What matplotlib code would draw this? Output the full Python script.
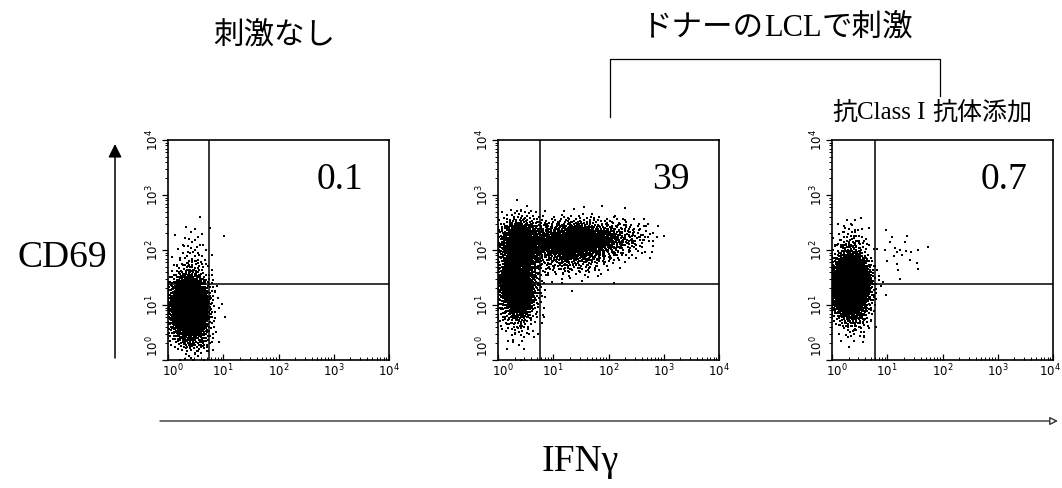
import numpy as np
import matplotlib
matplotlib.use("Agg")
import matplotlib.pyplot as plt
from matplotlib.transforms import ScaledTranslation

# ---------------- data ----------------
panel_titles = ["刺激なし", "ドナーのLCLで刺激", "抗Class I 抗体添加"]
quadrant_pct = ["0.1", "39", "0.7"]
x_label = "IFNγ"
y_label = "CD69"
tick_vals = [1, 10, 100, 1000, 10000]
tick_labels = ["$10^0$", "$10^1$", "$10^2$", "$10^3$", "$10^4$"]

# gate positions in log10 decades (x gate, y gate)
gate_x = [0.75, 0.76, 0.77]
gate_y = [1.38, 1.38, 1.38]

# populations per panel: centre x, centre y (log10), spread x, spread y, events
pop_cx_1 = [0.38, 0.45, 0.55, 0.90]
pop_cy_1 = [0.95, 1.75, 0.35, 1.60]
pop_sx_1 = [0.17, 0.16, 0.15, 0.05]
pop_sy_1 = [0.29, 0.35, 0.15, 0.40]
pop_n_1 = [2400, 90, 60, 3]

pop_cx_2 = [0.35, 0.42, 1.40, 2.25, 1.30, 0.40]
pop_cy_2 = [1.35, 2.10, 2.15, 2.25, 1.80, 0.65]
pop_sx_2 = [0.18, 0.22, 0.42, 0.32, 0.32, 0.18]
pop_sy_2 = [0.32, 0.25, 0.19, 0.17, 0.17, 0.25]
pop_n_2 = [1400, 900, 1600, 150, 150, 40]

pop_cx_3 = [0.33, 0.35, 0.45, 1.20]
pop_cy_3 = [1.35, 2.05, 0.70, 1.95]
pop_sx_3 = [0.17, 0.15, 0.15, 0.30]
pop_sy_3 = [0.28, 0.25, 0.20, 0.25]
pop_n_3 = [2600, 100, 60, 25]

populations = [
    (pop_cx_1, pop_cy_1, pop_sx_1, pop_sy_1, pop_n_1),
    (pop_cx_2, pop_cy_2, pop_sx_2, pop_sy_2, pop_n_2),
    (pop_cx_3, pop_cy_3, pop_sx_3, pop_sy_3, pop_n_3),
]


def quasi_cloud(cx, cy, sx, sy, n, offset):
    """Deterministic (R2 low-discrepancy) Gaussian-shaped cloud."""
    g = 1.32471795724474602596
    a1, a2 = 1.0 / g, 1.0 / (g * g)
    k = np.arange(offset + 1, offset + n + 1)
    u1 = np.mod(0.5 + a1 * k, 1.0)
    u2 = np.mod(0.5 + a2 * k, 1.0)
    u1 = np.clip(u1, 1e-4, 1 - 1e-4)
    r = np.sqrt(-2.0 * np.log(u1))
    x = cx + sx * r * np.cos(2 * np.pi * u2)
    y = cy + sy * r * np.sin(2 * np.pi * u2)
    return x, y


# ---------------- figure ----------------
W, H = 1062, 488
fig = plt.figure(figsize=(W / 100, H / 100), dpi=100)

overlay = fig.add_axes([0, 0, 1, 1])
overlay.set_xlim(0, W)
overlay.set_ylim(H, 0)
overlay.axis("off")

panel_lefts = [168, 498, 832]
panel_w, panel_top, panel_bottom = 221, 140, 360

serif = "Liberation Serif"
cjk = "Noto Sans CJK JP"

for i, (left, pops) in enumerate(zip(panel_lefts, populations)):
    ax = fig.add_axes([left / W, (H - panel_bottom) / H, panel_w / W,
                       (panel_bottom - panel_top) / H])
    xs, ys = [], []
    cxs, cys, sxs, sys_, ns = pops
    off = 0
    for cx, cy, sx, sy, n in zip(cxs, cys, sxs, sys_, ns):
        x, y = quasi_cloud(cx, cy, sx, sy, n, off + 137 * i)
        off += n + 911
        xs.append(x)
        ys.append(y)
    xs = np.clip(np.concatenate(xs), 0.0, 3.99)
    ys = np.clip(np.concatenate(ys), 0.0, 3.99)
    ax.scatter(10 ** xs, 10 ** ys, s=1.2, marker="s", c="black", linewidths=0)

    ax.set_xscale("log")
    ax.set_yscale("log")
    ax.set_xlim(1, 10000)
    ax.set_ylim(1, 10000)
    ax.axvline(10 ** gate_x[i], color="black", lw=1.1)
    ax.axhline(10 ** gate_y[i], color="black", lw=1.1)
    for sp in ax.spines.values():
        sp.set_linewidth(1.2)
    ax.set_xticks(tick_vals)
    ax.set_xticklabels(tick_labels, fontsize=8.5)
    ax.set_yticks(tick_vals)
    ax.set_yticklabels(tick_labels, fontsize=8.5, rotation=90, va="center")
    ax.tick_params(axis="x", which="both", direction="in", pad=2)
    ax.tick_params(axis="y", which="both", direction="out", pad=1)
    ax.tick_params(which="major", length=4, width=0.9)
    ax.tick_params(which="minor", length=2.5, width=0.7)
    # keep the corner labels apart and the last label inside the figure
    ylabs = ax.get_yticklabels()
    ylabs[0].set_va("bottom")
    ylabs[0].set_transform(ylabs[0].get_transform() +
                           ScaledTranslation(0, 2 / 72, fig.dpi_scale_trans))
    xlabs = ax.get_xticklabels()
    xlabs[0].set_ha("left")
    xlabs[0].set_transform(xlabs[0].get_transform() +
                           ScaledTranslation(-4 / 72, 0, fig.dpi_scale_trans))
    if i == 2:
        xlabs[-1].set_ha("right")
        xlabs[-1].set_transform(xlabs[-1].get_transform() +
                                ScaledTranslation(6 / 72, 0, fig.dpi_scale_trans))
    ax.text(0.78, 0.82, quadrant_pct[i], transform=ax.transAxes,
            ha="center", va="center", fontsize=27, family=serif)

# ---------------- texts built from runs ----------------
renderer = fig.canvas.get_renderer()


def draw_runs(xc, yc, runs, size):
    texts = []
    for s, fam in runs:
        t = overlay.text(0, yc, s, fontsize=size, family=fam,
                         ha="left", va="center")
        texts.append(t)
    widths = []
    for t in texts:
        bb = t.get_window_extent(renderer=renderer)
        widths.append(bb.width)
    total = sum(widths)
    x = xc - total / 2.0
    for t, w in zip(texts, widths):
        t.set_x(x)
        x += w


overlay.text(274, 36, panel_titles[0], fontsize=22, family=cjk,
             ha="center", va="center")
draw_runs(778, 28, [("ドナーの", cjk), ("LCL", serif), ("で刺激", cjk)], 22)
draw_runs(932, 113, [("抗", cjk), ("Class I ", serif), ("抗体添加", cjk)], 18)

# bracket
overlay.plot([610, 610, 940, 940], [117, 59, 59, 96], color="black", lw=0.9)

# axis labels and arrows
overlay.text(62, 258, y_label, fontsize=27, family=serif, ha="center", va="center")
overlay.text(580, 462, x_label, fontsize=27, family=serif, ha="center", va="center")
overlay.annotate("", xy=(115, 144), xytext=(115, 358),
                 arrowprops=dict(arrowstyle="-|>", color="black", lw=1.1,
                                 mutation_scale=20, shrinkA=0, shrinkB=0))
overlay.annotate("", xy=(1058, 421), xytext=(160, 421),
                 arrowprops=dict(arrowstyle="-|>", fc="white", ec="#333333",
                                 lw=1.0, mutation_scale=12, shrinkA=0, shrinkB=0))

fig.savefig("out.png", dpi=100)
